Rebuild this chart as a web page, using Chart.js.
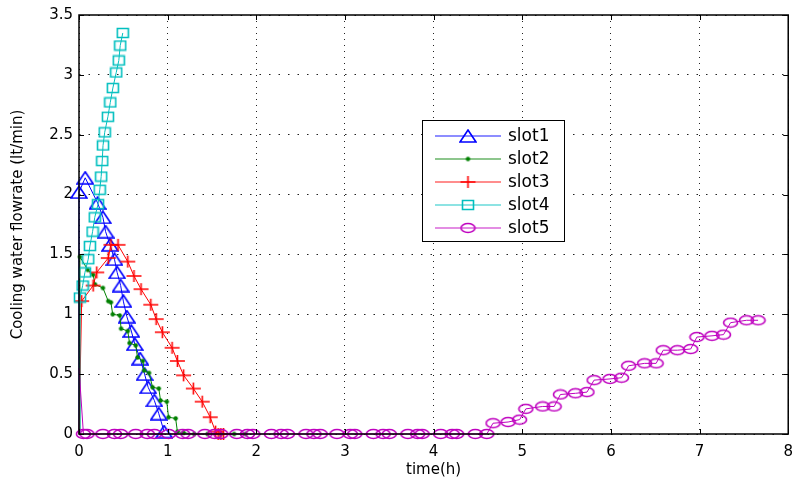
<!DOCTYPE html>
<html lang="en">
<head>
<meta charset="UTF-8">
<title>Cooling water flowrate per slot</title>
<script src="https://cdn.jsdelivr.net/npm/chart.js"></script>
<style>
  html, body { margin: 0; padding: 0; background: #ffffff; }
  #wrap { width: 802px; height: 482px; }
</style>
</head>
<body>
<div id="wrap"><canvas id="flowChart"></canvas></div>
<script>
// values: time in hours, flowrate in lt/min
const slotNames = ['slot1', 'slot2', 'slot3', 'slot4', 'slot5'];

const slot1Time = [0, 0, 0.07, 0.21, 0.27, 0.3, 0.35, 0.4, 0.43, 0.47, 0.5, 0.54, 0.59, 0.63, 0.69, 0.74, 0.78, 0.85, 0.9, 0.96];
const slot1Flow = [0, 2.02, 2.14, 1.93, 1.81, 1.69, 1.58, 1.46, 1.35, 1.24, 1.11, 0.98, 0.86, 0.75, 0.63, 0.5, 0.39, 0.28, 0.17, 0.02];

const slot2Time = [0, 0.01, 0.1, 0.16, 0.18, 0.27, 0.33, 0.36, 0.38, 0.46, 0.475, 0.55, 0.57, 0.64, 0.66, 0.72, 0.735, 0.79, 0.83, 0.9, 0.92, 0.99, 1.01, 1.09, 1.11, 1.18, 1.3, 1.45, 1.6, 1.75, 1.88];
const slot2Flow = [0, 1.48, 1.37, 1.33, 1.25, 1.22, 1.11, 1.1, 1.0, 0.99, 0.88, 0.86, 0.76, 0.74, 0.64, 0.61, 0.53, 0.51, 0.39, 0.38, 0.28, 0.27, 0.14, 0.13, 0.02, 0.01, 0, 0, 0, 0, 0];

const slot3Time = [0, 0.03, 0.16, 0.2, 0.33, 0.36, 0.44, 0.55, 0.62, 0.7, 0.81, 0.87, 0.94, 1.05, 1.11, 1.18, 1.29, 1.39, 1.48, 1.54, 1.57, 1.6, 1.63];
const slot3Flow = [0, 1.11, 1.24, 1.35, 1.47, 1.58, 1.58, 1.44, 1.32, 1.21, 1.08, 0.96, 0.85, 0.72, 0.61, 0.49, 0.38, 0.27, 0.14, 0.02, 0, 0, 0];

const slot4Time = [0, 0.011, 0.041, 0.067, 0.104, 0.123, 0.153, 0.178, 0.215, 0.234, 0.25, 0.262, 0.271, 0.29, 0.326, 0.353, 0.382, 0.42, 0.449, 0.465, 0.494];
const slot4Flow = [0, 1.14, 1.24, 1.35, 1.46, 1.57, 1.69, 1.81, 1.92, 2.04, 2.15, 2.28, 2.41, 2.52, 2.65, 2.77, 2.89, 3.02, 3.12, 3.245, 3.35];

const slot5Time = [0, 0.05, 0.09, 0.27, 0.4, 0.47, 0.64, 0.77, 0.85, 1.01, 1.17, 1.23, 1.42, 1.53, 1.6,
  1.78, 1.9, 1.96, 2.17, 2.28, 2.35, 2.56, 2.65, 2.72, 2.91, 3.06, 3.11, 3.32, 3.43, 3.5, 3.71, 3.82, 3.87,
  4.08, 4.21, 4.26, 4.47, 4.6, 4.67, 4.84, 4.97, 5.04, 5.23, 5.36, 5.43, 5.6, 5.73, 5.81, 5.99, 6.12, 6.2,
  6.38, 6.51, 6.59, 6.75, 6.9, 6.97, 7.14, 7.27, 7.35, 7.53, 7.66];
const slot5Flow = [0.55, 0, 0, 0, 0, 0, 0, 0, 0, 0, 0, 0, 0, 0, 0,
  0, 0, 0, 0, 0, 0, 0, 0, 0, 0, 0, 0, 0, 0, 0, 0, 0, 0,
  0, 0, 0, 0, 0, 0.09, 0.1, 0.12, 0.21, 0.23, 0.23, 0.33, 0.34, 0.35, 0.45, 0.46, 0.47, 0.57,
  0.59, 0.59, 0.7, 0.7, 0.71, 0.81, 0.82, 0.83, 0.93, 0.95, 0.95];

const xTicks = [0, 1, 2, 3, 4, 5, 6, 7, 8];
const yTicks = [0, 0.5, 1, 1.5, 2, 2.5, 3, 3.5];

const FONT = "'DejaVu Sans', 'Liberation Sans', Arial, sans-serif";
const colors = ['#0000ff', '#008000', '#ff0000', '#00bfbf', '#bf00bf'];
const markerKinds = ['triangle', 'dot', 'plus', 'square', 'circle'];

// small canvases used as point markers (the figure's markers are wider than tall)
function makeMarker(kind, color) {
    const sizes = { triangle: [16, 12], dot: [5, 5], plus: [15, 12], square: [12, 10], circle: [15, 10] };
    const [w, h] = sizes[kind];
    const c = document.createElement('canvas');
    c.width = w + 2;
    c.height = h + 2;
    const g = c.getContext('2d');
    g.strokeStyle = color;
    g.fillStyle = color;
    g.lineWidth = 1.6;
    const cx = c.width / 2, cy = c.height / 2;
    g.beginPath();
    if (kind === 'triangle') {
        g.moveTo(cx, 1);
        g.lineTo(w + 1, h + 1);
        g.lineTo(1, h + 1);
        g.closePath();
        g.stroke();
    } else if (kind === 'dot') {
        g.arc(cx, cy, 2.2, 0, Math.PI * 2);
        g.fill();
    } else if (kind === 'plus') {
        g.moveTo(1, cy); g.lineTo(w + 1, cy);
        g.moveTo(cx, 1); g.lineTo(cx, h + 1);
        g.stroke();
    } else if (kind === 'square') {
        g.rect(1.5, 1.5, w - 1, h - 1);
        g.stroke();
    } else {
        g.ellipse(cx, cy, w / 2 - 0.5, h / 2 - 0.5, 0, 0, Math.PI * 2);
        g.stroke();
    }
    return c;
}

const markers = markerKinds.map((k, i) => makeMarker(k, colors[i]));

function toPoints(times, flows) {
    return times.map((t, i) => ({ x: t, y: flows[i] }));
}

const seriesData = [
    toPoints(slot1Time, slot1Flow),
    toPoints(slot2Time, slot2Flow),
    toPoints(slot3Time, slot3Flow),
    toPoints(slot4Time, slot4Flow),
    toPoints(slot5Time, slot5Flow)
];

const datasets = slotNames.map((name, i) => ({
    label: name,
    data: seriesData[i],
    borderColor: colors[i],
    backgroundColor: colors[i],
    borderWidth: 1,
    pointStyle: markers[i],
    // first sample is the start of the line at t=0, drawn without a marker
    pointRadius: ctx => ctx.dataIndex === 0 ? 0 : 4,
    pointHoverRadius: 4,
    tension: 0,
    fill: false,
    clip: false,
    order: 5 - i
}));

// axes box with inward tick marks, like the original figure
const framePlugin = {
    id: 'frame',
    afterDatasetsDraw(chart) {
        const { ctx, chartArea: a, scales } = chart;
        ctx.save();
        ctx.strokeStyle = '#000';
        ctx.lineWidth = 1;
        ctx.beginPath();
        xTicks.forEach(v => {
            const px = Math.round(scales.x.getPixelForValue(v)) + 0.5;
            ctx.moveTo(px, a.bottom); ctx.lineTo(px, a.bottom - 5);
            ctx.moveTo(px, a.top); ctx.lineTo(px, a.top + 5);
        });
        yTicks.forEach(v => {
            const py = Math.round(scales.y.getPixelForValue(v)) + 0.5;
            ctx.moveTo(a.left, py); ctx.lineTo(a.left + 5, py);
            ctx.moveTo(a.right, py); ctx.lineTo(a.right - 5, py);
        });
        ctx.stroke();
        ctx.lineWidth = 1.5;
        ctx.strokeRect(a.left, a.top, a.right - a.left, a.bottom - a.top);
        ctx.restore();
    }
};

// legend box placed inside the axes
const boxLegend = {
    id: 'boxLegend',
    afterDraw(chart) {
        const { ctx, chartArea: a } = chart;
        const left = a.left + 343, top = a.top + 105, w = 142, h = 121;
        ctx.save();
        ctx.fillStyle = '#fff';
        ctx.fillRect(left, top, w, h);
        ctx.strokeStyle = '#000';
        ctx.lineWidth = 1;
        ctx.strokeRect(left + 0.5, top + 0.5, w, h);
        ctx.font = '17px ' + FONT;
        ctx.textBaseline = 'middle';
        ctx.fillStyle = '#000';
        slotNames.forEach((name, i) => {
            const y = top + 16 + i * 23;
            ctx.strokeStyle = colors[i];
            ctx.globalAlpha = 0.6;
            ctx.lineWidth = 1.5;
            ctx.beginPath();
            ctx.moveTo(left + 13, y);
            ctx.lineTo(left + 79, y);
            ctx.stroke();
            ctx.globalAlpha = 1;
            const m = markers[i];
            ctx.drawImage(m, left + 46 - m.width / 2, y - m.height / 2);
            ctx.fillText(name, left + 86, y + 1);
        });
        ctx.restore();
    }
};

const ctxFlow = document.getElementById('flowChart').getContext('2d');
new Chart(ctxFlow, {
    type: 'line',
    data: { datasets: datasets },
    options: {
        responsive: true,
        maintainAspectRatio: false,
        animation: false,
        events: [],
        layout: { padding: { top: 12, right: 5, left: 0, bottom: 0 } },
        plugins: {
            legend: { display: false },
            tooltip: { enabled: false }
        },
        scales: {
            x: {
                type: 'linear',
                min: 0,
                max: 8,
                afterFit: s => { s.height = 48; },
                afterBuildTicks: s => { s.ticks = xTicks.map(v => ({ value: v })); },
                ticks: { color: '#000', padding: 9, font: { family: FONT, size: 15 }, callback: v => String(v) },
                grid: { color: '#222', lineWidth: 1, drawTicks: false },
                border: { display: false, dash: [1, 5] },
                title: {
                    display: true,
                    text: 'time(h)',
                    color: '#000',
                    font: { family: FONT, size: 15 },
                    padding: { top: 0, bottom: 3 }
                }
            },
            y: {
                type: 'linear',
                min: 0,
                max: 3.5,
                afterFit: s => { s.width = 79; },
                afterBuildTicks: s => { s.ticks = yTicks.map(v => ({ value: v })); },
                ticks: { color: '#000', padding: 6, font: { family: FONT, size: 15 }, callback: v => String(v) },
                grid: { color: '#222', lineWidth: 1, drawTicks: false },
                border: { display: false, dash: [1.5, 8] },
                title: {
                    display: true,
                    text: 'Cooling water flowrate (lt/min)',
                    color: '#000',
                    font: { family: FONT, size: 15 },
                    padding: { top: 9, bottom: 0 }
                }
            }
        }
    },
    plugins: [framePlugin, boxLegend]
});
</script>
</body>
</html>
